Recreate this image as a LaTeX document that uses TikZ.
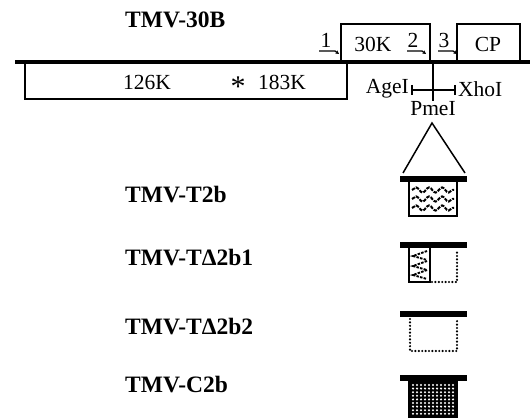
\documentclass[tikz,border=0pt]{standalone}
\usepackage{fontspec}
\setmainfont{Liberation Serif}
\usetikzlibrary{decorations.pathmorphing,arrows.meta}
\begin{document}
\begin{tikzpicture}[x=1pt,y=-1pt,
  lbl/.style={font=\fontsize{23.5}{25}\selectfont\bfseries,anchor=west,inner sep=0},
  txt/.style={font=\fontsize{21.5}{23}\selectfont,inner sep=0},
  gbox/.style={draw,line width=2.8pt},
  bar/.style={fill=black},
  dotb/.style={line width=2.4pt,line cap=round,dash pattern=on 0pt off 3.4pt},
  wave/.style={decorate,decoration={snake,amplitude=2.6pt,segment length=13pt},line width=2pt,dash pattern=on 3.5pt off 1.2pt},
  startarr/.style={line width=1.3pt,-{Stealth[length=3.5pt,width=3.5pt]}}]
\useasboundingbox (0,0) rectangle (530,419);
% title
\node[lbl] (t30) at (125,20) {TMV-30B};
% main line
\coordinate (mlA) at (15,62);
\coordinate (mlB) at (530,62);
\draw[line width=3.5pt] (mlA) -- (mlB);
% 126K/183K box
\draw[gbox] (25,62) -- (25,99) -- (347,99) -- (347,62);
\node[txt] (k126) at (147,82) {126K};
\node[font=\fontsize{30}{30}\selectfont,inner sep=0] (ast) at (238,87) {*};
\node[txt] (k183) at (282,82) {183K};
% 30K box
\draw[gbox] (341,62) -- (341,24) -- (430,24) -- (430,62);
\node[txt] (k30) at (373,44) {30K};
% CP box
\draw[gbox] (457,62) -- (457,24) -- (520,24) -- (520,62);
\node[txt] (cp) at (488,44) {CP};
% promoter numbers and arrows
\node[txt] (n1) at (326,40) {1};
\node[txt] (n2) at (413,40) {2};
\node[txt] (n3) at (444,40) {3};
\coordinate (a1s) at (319,51); \coordinate (a1m) at (335,51); \coordinate (a1e) at (339,54);
\coordinate (a2s) at (407,51); \coordinate (a2m) at (422,51); \coordinate (a2e) at (426,54);
\coordinate (a3s) at (438,51); \coordinate (a3m) at (453,51); \coordinate (a3e) at (457,54);
\draw[startarr] (a1s) -- (a1m) -- (a1e);
\draw[startarr] (a2s) -- (a2m) -- (a2e);
\draw[startarr] (a3s) -- (a3m) -- (a3e);
% PmeI site
\coordinate (pm0) at (433,62);
\coordinate (pm1) at (433,101);
\draw[line width=1.8pt] (pm0) -- (pm1);
\coordinate (ageE) at (412,90);
\coordinate (xhoE) at (455,90);
\draw[line width=1.6pt] (ageE) -- (xhoE);
\draw[line width=1.6pt] (412,85) -- (412,95);
\draw[line width=1.6pt] (455,85) -- (455,95);
\node[txt,anchor=east] (age) at (409,89) {AgeI};
\node[txt,anchor=west] (xho) at (458,89) {XhoI};
\node[txt] (pme) at (433,109) {PmeI};
% triangle
\coordinate (apex) at (432,123);
\coordinate (tl) at (403,173);
\coordinate (tr) at (465,173);
\draw[line width=1.5pt] (tl) -- (apex) -- (tr);
% TMV-T2b
\node[lbl] (t2b) at (125,195) {TMV-T2b};
\fill[bar] (400,176) rectangle (467,182);
\draw[gbox] (409,182) -- (409,216) -- (457,216) -- (457,182);
\foreach \yy in {190,199,208} \draw[wave] (412,\yy) -- (454,\yy);
% TMV-TD2b1
\node[lbl] (td1) at (125,258) {TMV-TΔ2b1};
\fill[bar] (400,242) rectangle (467,248);
\draw[gbox] (409,248) -- (409,282) -- (430,282) -- (430,248);
\draw[dotb] (432,282) -- (457,282) -- (457,250);
\foreach \yy in {256,266,275} \draw[line width=1.9pt,dash pattern=on 2.5pt off 1.2pt] (427,\yy-5) -- (413,\yy) -- (427,\yy+4);
% TMV-TD2b2
\node[lbl] (td2) at (125,327) {TMV-TΔ2b2};
\fill[bar] (400,311) rectangle (467,317);
\draw[dotb] (410,319) -- (410,351) -- (457,351) -- (457,319);
% TMV-C2b
\node[lbl] (c2b) at (125,385) {TMV-C2b};
\fill[bar] (400,375) rectangle (467,381);
\fill[black] (408,381) rectangle (458,418);
\foreach \i in {0,...,10} \foreach \j in {0,...,8}
  \fill[white] (413+4*\i,385+3.6*\j) circle (1.15pt);
\end{tikzpicture}
\end{document}
